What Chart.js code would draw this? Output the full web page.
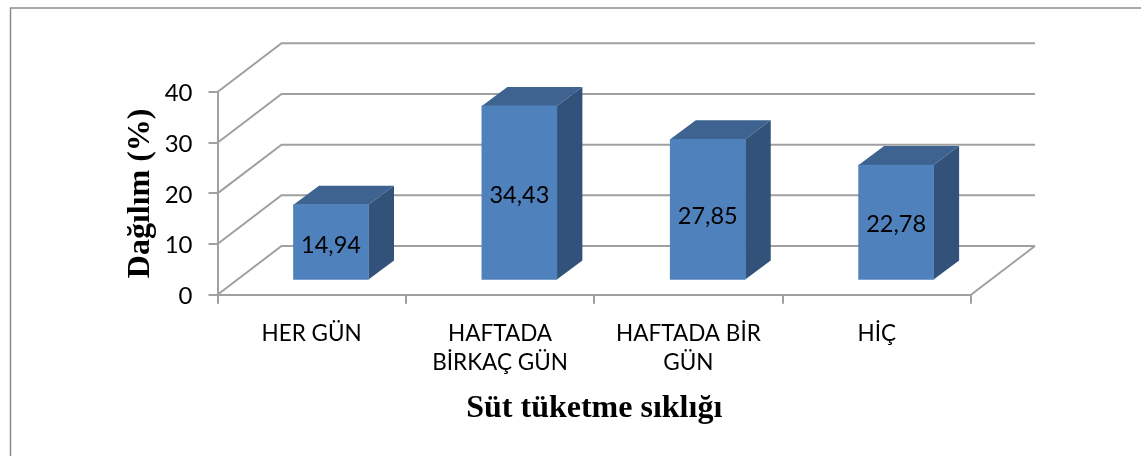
<!DOCTYPE html>
<html>
<head>
<meta charset="utf-8">
<title>Süt tüketme sıklığı</title>
<script src="https://cdn.jsdelivr.net/npm/chart.js@4"></script>
<style>
	html, body { margin: 0; padding: 0; background: #fff; overflow: hidden; }
	canvas { display: block; }
</style>
</head>
<body>
<canvas id="chart" width="1141" height="456"></canvas>
<script>
var categories = [["HER GÜN"], ["HAFTADA", "BİRKAÇ GÜN"], ["HAFTADA BİR", "GÜN"], ["HİÇ"]];
var values = [14.94, 34.43, 27.85, 22.78];
var yTicks = [0, 10, 20, 30, 40];

var gridColor = '#a0a0a0';
var wallDx = 64, wallDy = -48.7;		// depth of the floor
var barDx = 25.5, barDy = -19;			// depth of one bar
var barShiftX = 19.3, barShiftY = -14.3;	// bars stand in the middle of the floor
var labelNudge = [3, 3, 7, 2];			// the labels are not quite centred in the original

var fakeThreeD = {
	id: 'fakeThreeD',
	beforeDraw: function(chart) {
		var ctx = chart.ctx;
		ctx.save();
		ctx.strokeStyle = '#8c8c8c';
		ctx.lineWidth = 1.5;
		ctx.beginPath();
		ctx.moveTo(10.5, 456);
		ctx.lineTo(10.5, 8);
		ctx.lineTo(1141, 8);
		ctx.stroke();
		ctx.restore();
	},
	beforeDatasetsDraw: function(chart) {
		var ctx = chart.ctx;
		var area = chart.chartArea;
		var y = chart.scales.y;
		ctx.save();
		ctx.strokeStyle = gridColor;
		ctx.lineWidth = 2;
		yTicks.forEach(function(t) {
			var py = y.getPixelForValue(t);
			ctx.beginPath();
			ctx.moveTo(area.left, py);
			ctx.lineTo(area.left + wallDx, py + wallDy);
			ctx.lineTo(area.right + wallDx, py + wallDy);
			ctx.stroke();
		});
		// right edge of the floor
		ctx.beginPath();
		ctx.moveTo(area.right, area.bottom);
		ctx.lineTo(area.right + wallDx, area.bottom + wallDy);
		ctx.stroke();
		ctx.restore();

		ctx.save();
		ctx.translate(barShiftX, barShiftY);
		chart.getDatasetMeta(0).data.forEach(function(bar) {
			var l = bar.x - bar.width / 2, r = bar.x + bar.width / 2;
			ctx.fillStyle = '#3e6390';
			ctx.beginPath();
			ctx.moveTo(l, bar.y);
			ctx.lineTo(l + barDx, bar.y + barDy);
			ctx.lineTo(r + barDx, bar.y + barDy);
			ctx.lineTo(r, bar.y);
			ctx.closePath();
			ctx.fill();
			ctx.fillStyle = '#325279';
			ctx.beginPath();
			ctx.moveTo(r, bar.y);
			ctx.lineTo(r + barDx, bar.y + barDy);
			ctx.lineTo(r + barDx, bar.base + barDy);
			ctx.lineTo(r, bar.base);
			ctx.closePath();
			ctx.fill();
		});
	},
	afterDatasetsDraw: function(chart) {
		var ctx = chart.ctx;
		ctx.font = '23.5px Lato';
		ctx.fillStyle = '#000';
		ctx.textAlign = 'center';
		ctx.textBaseline = 'middle';
		chart.getDatasetMeta(0).data.forEach(function(bar, i) {
			ctx.fillText(values[i].toFixed(2).replace('.', ','), bar.x, (bar.y + bar.base) / 2 + labelNudge[i]);
		});
		ctx.restore();
	}
};

new Chart(document.getElementById('chart'), {
	type: 'bar',
	data: {
		labels: categories,
		datasets: [{
			data: values,
			backgroundColor: '#4f81bd',
			barThickness: 75,
			clip: false
		}]
	},
	options: {
		responsive: false,
		animation: false,
		layout: { padding: { left: 122, top: 92, right: 170, bottom: 28 } },
		plugins: { legend: { display: false }, tooltip: { enabled: false } },
		scales: {
			x: {
				afterFit: function(scale) { scale.height = 456 - 28 - 294.7; },
				grid: { drawOnChartArea: false, drawTicks: true, tickLength: 9, color: gridColor, lineWidth: 2 },
				border: { color: gridColor, width: 2 },
				ticks: { color: '#000', maxRotation: 0, padding: 15, font: { family: 'Lato', size: 22.5, lineHeight: 1.3 } },
				title: {
					display: true,
					text: 'Süt tüketme sıklığı',
					color: '#000',
					font: { family: '"Liberation Serif"', size: 32, weight: 'bold' },
					padding: 0
				}
			},
			y: {
				min: 0,
				max: 40,
				afterFit: function(scale) { scale.width = 217.5 - 122; },
				afterBuildTicks: function(scale) { scale.ticks = yTicks.map(function(v) { return { value: v }; }); },
				grid: { drawOnChartArea: false, drawTicks: true, tickLength: 9, color: gridColor, lineWidth: 2 },
				border: { color: gridColor, width: 2 },
				ticks: { color: '#000', padding: 16, labelOffset: 1.5, font: { family: 'Lato', size: 24 } },
				title: {
					display: true,
					text: 'Dağılım (%)',
					color: '#000',
					font: { family: '"Liberation Serif"', size: 32, weight: 'bold' },
					padding: 0
				}
			}
		}
	},
	plugins: [fakeThreeD]
});
</script>
</body>
</html>
